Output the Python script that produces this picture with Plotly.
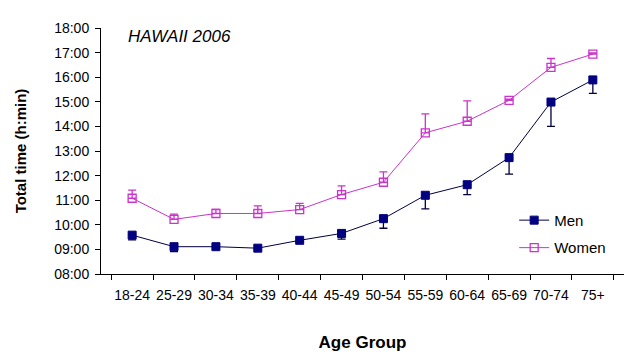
import plotly.graph_objects as go

categories = ["18-24", "25-29", "30-34", "35-39", "40-44", "45-49",
              "50-54", "55-59", "60-64", "65-69", "70-74", "75+"]
# total time in hours
men = [9.58, 9.11, 9.11, 9.05, 9.37, 9.65, 10.25, 11.20, 11.63, 12.73, 14.99, 15.89]
men_err = [0.19, 0.20, 0.05, 0.07, 0.06, 0.23, 0.39, 0.55, 0.40, 0.67, 0.99, 0.55]
women = [11.08, 10.22, 10.46, 10.46, 10.62, 11.23, 11.73, 13.74, 14.21, 15.06, 16.40, 16.94]
women_err = [0.33, 0.21, 0.17, 0.31, 0.25, 0.35, 0.42, 0.77, 0.83, 0.05, 0.36, 0.05]
yticks = list(range(8, 19))
yticklabels = ["%02d:00" % h for h in yticks]

zeros = [0] * len(categories)

fig = go.Figure()
fig.add_trace(go.Scatter(
    x=categories, y=men, name="Men", mode="lines+markers", legendgroup="m",
    line=dict(color="#000040", width=1),
    marker=dict(symbol="square", size=8, color="#000080", line=dict(color="#000080", width=1)),
    error_y=dict(type="data", symmetric=False, array=zeros, arrayminus=men_err,
                 color="#000040", thickness=1.3, width=4),
))
fig.add_trace(go.Scatter(
    x=categories, y=women, name="Women", mode="lines+markers", legendgroup="w",
    line=dict(color="#CC33CC", width=1),
    marker=dict(symbol="square-open", size=8, color="#CC33CC", line=dict(color="#CC33CC", width=1.3)),
    error_y=dict(type="data", symmetric=False, array=women_err, arrayminus=zeros,
                 color="#CC33CC", thickness=1.3, width=4),
))

# the page body adds an 8px offset, compensated in the margins
fig.update_layout(
    width=639, height=364,
    margin=dict(l=93, r=23, t=18, b=98),
    paper_bgcolor="white", plot_bgcolor="white",
    font=dict(family="Liberation Sans, Arial, sans-serif", size=14, color="black"),
    showlegend=True,
    legend=dict(x=0.79, y=0.285, xanchor="left", yanchor="top",
                bgcolor="rgba(0,0,0,0)", font=dict(size=15),
                itemwidth=30, tracegroupgap=5),
    xaxis=dict(
        type="category", showline=True, linecolor="black", linewidth=1,
        ticks="outside", tickson="boundaries", ticklen=5, tickcolor="black",
        tickangle=0, ticklabelstandoff=8,
        showgrid=False, zeroline=False,
        title=dict(text="<b>Age Group</b>", font=dict(size=17), standoff=34),
    ),
    yaxis=dict(
        range=[8, 18], tickvals=yticks, ticktext=yticklabels,
        showline=True, linecolor="black", linewidth=1,
        ticks="outside", ticklen=5, tickcolor="black", ticklabelstandoff=3,
        showgrid=False, zeroline=False,
        title=dict(text="<b>Total time (h:min)</b>", font=dict(size=15), standoff=23),
    ),
    annotations=[dict(
        text="<i>HAWAII 2006</i>", x=(126 - 101) / 523, y=(274 - 35) / 248,
        xref="paper", yref="paper", xanchor="left", yanchor="middle",
        showarrow=False, font=dict(size=17),
    )],
)

fig.write_html("out.html")
